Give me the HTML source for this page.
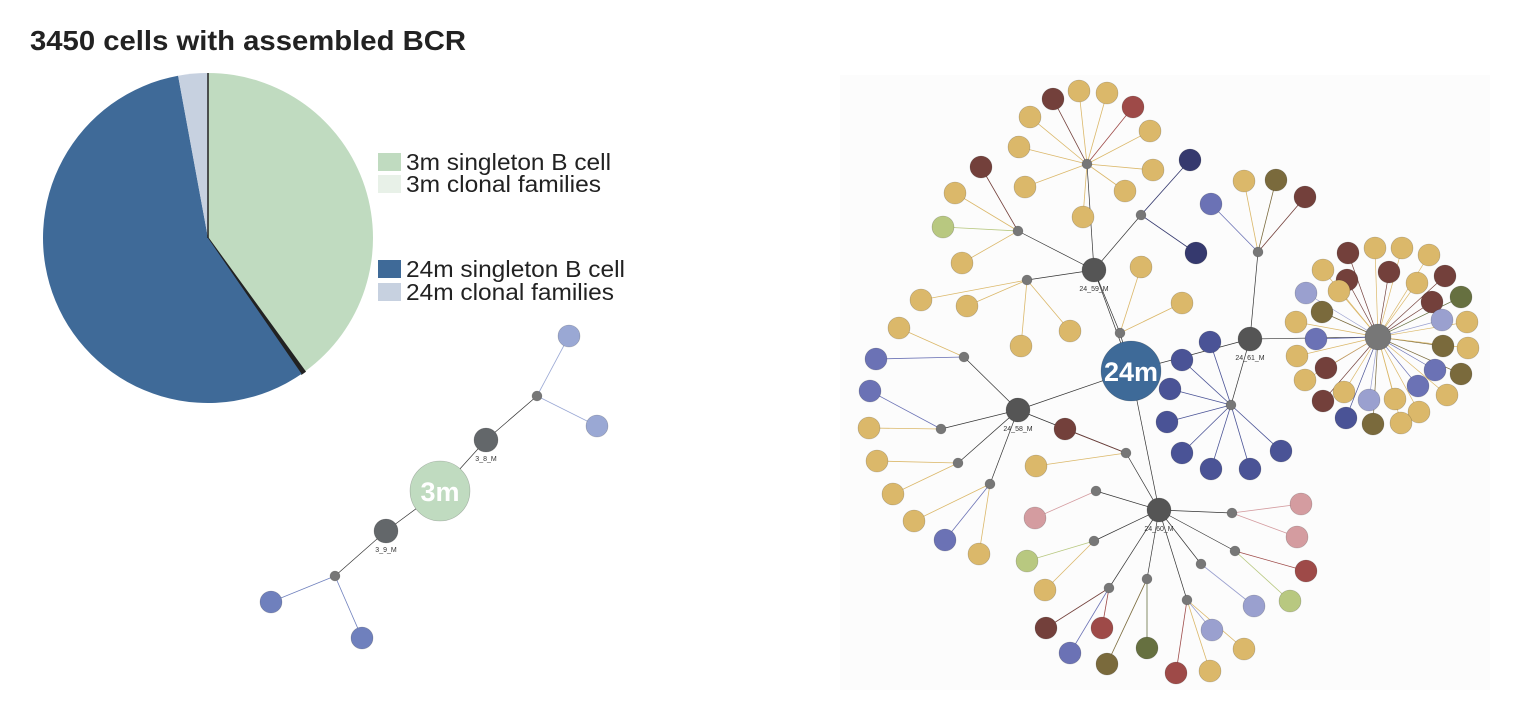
<!DOCTYPE html>
<html><head><meta charset="utf-8"><style>
body{margin:0;background:#fff;font-family:"Liberation Sans",Arial,sans-serif;}
svg{display:block}
</style></head><body>
<svg id="c" width="1514" height="714" viewBox="0 0 1514 714">
<text x="30" y="50" font-size="28" font-weight="bold" fill="#222" textLength="436" lengthAdjust="spacingAndGlyphs">3450 cells with assembled BCR</text>
<rect x="840" y="75" width="650" height="615" fill="#fcfcfc"/>
<g id="pie"></g>
<g id="legend"></g>
<g id="net"></g>
</svg>
<script>
const categories=["3m singleton B cell","3m clonal families","24m singleton B cell","24m clonal families"];
const values=[40.0,0.4,56.7,2.9];
const sliceColors=["#c0dbc0","#e8f1e8","#3f6a98","#c7d1e0"];
const NS="http://www.w3.org/2000/svg";
function mk(t,a,p){const e=document.createElementNS(NS,t);for(const k in a)e.setAttribute(k,a[k]);p.appendChild(e);return e;}
const cx=208,cy=238,R=165;
const pie=document.getElementById('pie');
const tot=values.reduce((a,b)=>a+b,0);
let ang=0;
function pt(a){return [cx+R*Math.sin(a),cy-R*Math.cos(a)];}
values.forEach((v,i)=>{
 const a0=ang,a1=ang+v/tot*2*Math.PI;ang=a1;
 const p0=pt(a0),p1=pt(a1),large=(a1-a0)>Math.PI?1:0;
 const el=mk('path',{d:`M${cx},${cy}L${p0[0]},${p0[1]}A${R},${R} 0 ${large} 1 ${p1[0]},${p1[1]}Z`,fill:i==1?"#222":sliceColors[i],stroke:i==1?"#222":"none","stroke-width":1.5},pie);
 
 
});
const ln=mk('line',{x1:cx,y1:cy,x2:cx,y2:cy-R,stroke:"#222","stroke-width":1.5},pie);


const leg=document.getElementById('legend');
const legY=[162,184,269,292];
const legW=[205,195,219,208];
categories.forEach((c,i)=>{
 const g=mk('g',{},leg);
 
 
 mk('rect',{x:378,y:legY[i]-9,width:23,height:18,fill:sliceColors[i]},g);
 const t=mk('text',{x:406,y:legY[i]+8,"font-size":23,fill:"#222",textLength:legW[i],lengthAdjust:"spacingAndGlyphs"},g);t.textContent=c;
});
// networks
const C={Y:"#dbb86a",M:"#73403b",R:"#9e4a48",B:"#4a5396",L:"#6b72b5",P:"#9aa0cf",O:"#7a6a3c",G:"#b8c880",K:"#d49ca0",D:"#35396e",F:"#667040",Q:"#9aa8d4",S:"#6f80bd"};
const hubs=[[1094,270,"24_59_M"],[1250,339,"24_61_M"],[1018,410,"24_58_M"],[1159,510,"24_60_M"],[486,440,"3_8_M"],[386,531,"3_9_M"]];
const junctions=[[1087,164],[1018,231],[1027,280],[1141,215],[1258,252],[1120,333],[964,357],[941,429],[958,463],[990,484],[1231,405],[1126,453],[1096,491],[1094,541],[1109,588],[1147,579],[1187,600],[1201,564],[1235,551],[1232,513],[537,396],[335,576]];
const leafGroups=[
 [0,[[1053,99,"M"],[1079,91,"Y"],[1107,93,"Y"],[1133,107,"R"],[1150,131,"Y"],[1153,170,"Y"],[1125,191,"Y"],[1083,217,"Y"],[1025,187,"Y"],[1019,147,"Y"],[1030,117,"Y"]]],
 [1,[[981,167,"M"],[955,193,"Y"],[943,227,"G"],[962,263,"Y"]]],
 [2,[[921,300,"Y"],[967,306,"Y"],[1021,346,"Y"],[1070,331,"Y"]]],
 [3,[[1190,160,"D"],[1196,253,"D"]]],
 [4,[[1211,204,"L"],[1244,181,"Y"],[1276,180,"O"],[1305,197,"M"]]],
 [5,[[1141,267,"Y"],[1182,303,"Y"]]],
 [6,[[899,328,"Y"],[876,359,"L"]]],
 [7,[[870,391,"L"],[869,428,"Y"]]],
 [8,[[877,461,"Y"],[893,494,"Y"]]],
 [9,[[914,521,"Y"],[945,540,"L"],[979,554,"Y"]]],
 [10,[[1210,342,"B"],[1182,360,"B"],[1170,389,"B"],[1167,422,"B"],[1182,453,"B"],[1211,469,"B"],[1250,469,"B"],[1281,451,"B"]]],
 [11,[[1065,429,"M"],[1036,466,"Y"]]],
 [12,[[1035,518,"K"]]],
 [13,[[1027,561,"G"],[1045,590,"Y"]]],
 [14,[[1046,628,"M"],[1070,653,"L"],[1102,628,"R"]]],
 [15,[[1107,664,"O"],[1147,648,"F"]]],
 [16,[[1176,673,"R"],[1210,671,"Y"],[1212,630,"P"],[1244,649,"Y"]]],
 [17,[[1254,606,"P"]]],
 [18,[[1290,601,"G"],[1306,571,"R"]]],
 [19,[[1301,504,"K"],[1297,537,"K"]]],
 [20,[[569,336,"Q"],[597,426,"Q"]]],
 [21,[[271,602,"S"],[362,638,"S"]]]
];
const ringLeaves=[[1347,280,"M"],[1389,272,"M"],[1417,283,"Y"],[1432,302,"M"],[1442,320,"P"],[1443,346,"O"],[1435,370,"L"],[1418,386,"L"],[1395,399,"Y"],[1369,400,"P"],[1344,392,"Y"],[1326,368,"M"],[1316,339,"L"],[1322,312,"O"],[1339,291,"Y"],
 [1348,253,"M"],[1375,248,"Y"],[1402,248,"Y"],[1429,255,"Y"],[1445,276,"M"],[1461,297,"F"],[1467,322,"Y"],[1468,348,"Y"],[1461,374,"O"],[1447,395,"Y"],[1419,412,"Y"],[1401,423,"Y"],[1373,424,"O"],[1346,418,"B"],[1323,401,"M"],[1305,380,"Y"],[1297,356,"Y"],[1296,322,"Y"],[1306,293,"P"],[1323,270,"Y"]];
const links=[["c24","h0"],["c24","h1"],["c24","h2"],["c24","h3"],["h0","j0"],["h0","j1"],["h0","j2"],["h0","j3"],["h0","j5"],["j5","c24"],["h1","j4"],["h1","j10"],["h1","ring"],["h2","j6"],["h2","j7"],["h2","j8"],["h2","j9"],["h2","j11"],["j11","h3"],["h3","j12"],["h3","j13"],["h3","j14"],["h3","j15"],["h3","j16"],["h3","j17"],["h3","j18"],["h3","j19"],["c3","h4"],["c3","h5"],["h4","j20"],["h5","j21"]];
const net=document.getElementById('net');
const pos={c24:[1131,371],c3:[440,491],ring:[1378,337]};
hubs.forEach((h,i)=>pos['h'+i]=[h[0],h[1]]);
junctions.forEach((j,i)=>pos['j'+i]=j);
const eg=mk('g',{},net);


links.forEach(l=>{const a=pos[l[0]],b=pos[l[1]];mk('line',{x1:a[0],y1:a[1],x2:b[0],y2:b[1],stroke:"#333","stroke-width":0.7},eg);});
leafGroups.forEach(g=>{const a=junctions[g[0]];g[1].forEach(n=>mk('line',{x1:a[0],y1:a[1],x2:n[0],y2:n[1],stroke:C[n[2]],"stroke-width":0.8},eg));});
ringLeaves.forEach(n=>mk('line',{x1:1378,y1:337,x2:n[0],y2:n[1],stroke:C[n[2]],"stroke-width":0.7},eg));
function node(x,y,r,f,name){const c=mk('circle',{cx:x,cy:y,r:r,fill:f,stroke:"rgba(0,0,0,0.25)","stroke-width":0.6},net);
 
 }
leafGroups.forEach(g=>g[1].forEach(n=>node(n[0],n[1],11,C[n[2]],'leaf-node')));
ringLeaves.forEach(n=>node(n[0],n[1],11,C[n[2]],'ring-leaf-node'));
junctions.forEach(j=>node(j[0],j[1],5,"#777",'junction-node'));
hubs.forEach(h=>{node(h[0],h[1],12,h[2].startsWith("3")?"#63676a":"#555",'hub-node');
 const t=mk('text',{x:h[0],y:h[1]+21,"font-size":7,"text-anchor":"middle",fill:"#333"},net);t.textContent=h[2];});
node(1378,337,13,"#777",'ring-hub-node');
node(1131,371,30,"#3e6a98",'center-24m');
node(440,491,30,"#c0dbc0",'center-3m');
[[1131,"24m"],[440,"3m"]].forEach(d=>{const t=mk('text',{x:d[0],y:d[0]>1000?381:501,"font-size":27,"font-weight":"bold","text-anchor":"middle",fill:"#fff"},net);t.textContent=d[1];});
</script>
</body></html>
